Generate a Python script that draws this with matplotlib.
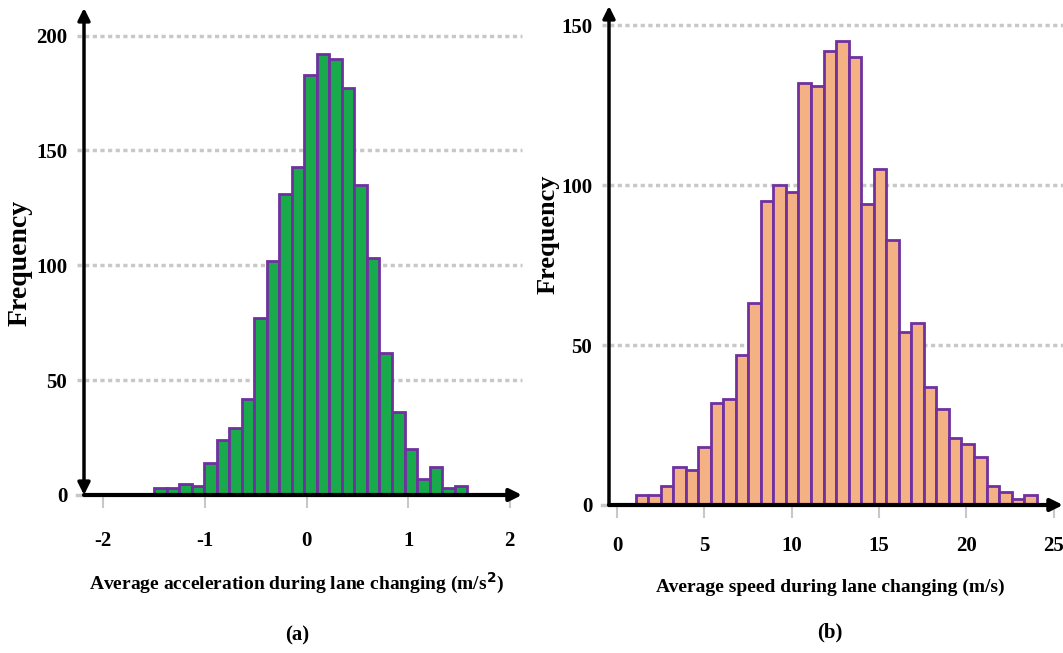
import numpy as np
import matplotlib
matplotlib.use("Agg")
import matplotlib.pyplot as plt

# (a) average acceleration histogram
acc_counts = [3, 3, 5, 4, 14, 24, 29, 42, 77, 102, 131, 143, 183, 192, 190,
              177, 135, 103, 62, 36, 20, 7, 12, 3, 4]
acc_range = (-1.50, 1.58)
acc_yticks = [0, 50, 100, 150, 200]
acc_xticks = [-2, -1, 0, 1, 2]

# (b) average speed histogram
spd_counts = [3, 3, 6, 12, 11, 18, 32, 33, 47, 63, 95, 100, 98, 132, 131,
              142, 145, 140, 94, 105, 83, 54, 57, 37, 30, 21, 19, 15, 6, 4,
              2, 3]
spd_range = (1.05, 24.03)
spd_yticks = [0, 50, 100, 150]
spd_xticks = [0, 5, 10, 15, 20, 25]

plt.rcParams.update({
    "font.family": "Liberation Serif",
    "font.weight": "bold",
    "axes.unicode_minus": False,
})

EDGE = "#7030a0"
GRID = "#c8c8c8"
W, H = 1063, 653


def draw_panel(fig, rect, counts, rng, xlim, ylim, xticks, yticks, color,
               double_arrow, xpad):
    ax = fig.add_axes(rect)
    edges = np.linspace(rng[0], rng[1], len(counts) + 1)
    ax.bar(edges[:-1], counts, width=np.diff(edges), align="edge",
           color=color, edgecolor=EDGE, linewidth=2.0, zorder=3)

    ax.set_xlim(*xlim)
    ax.set_ylim(*ylim)
    for s in ax.spines.values():
        s.set_visible(False)

    # dotted grid, starting a little left of the y axis
    ytr = ax.get_yaxis_transform()
    for v in yticks:
        if v > 0:
            ax.plot([-0.015, 1.0], [v, v], transform=ytr, color=GRID,
                    lw=2.5, ls=(0, (1.2, 1.0)), clip_on=False, zorder=1)
        else:
            ax.plot([-0.015, 0.0], [v, v], transform=ytr, color=GRID,
                    lw=2.5, clip_on=False, zorder=1)

    ax.set_yticks(yticks)
    ax.set_xticks(xticks)
    ax.tick_params(axis="y", length=0, pad=12, labelsize=15)
    ax.tick_params(axis="x", length=9, width=1.5, color=GRID, pad=xpad,
                   labelsize=15)

    style = "<|-|>" if double_arrow else "-|>"
    ax.annotate("", xy=(xlim[0], ylim[1]), xytext=(xlim[0], 0),
                arrowprops=dict(arrowstyle=style, lw=2.5, color="black",
                                mutation_scale=18, shrinkA=0, shrinkB=0),
                annotation_clip=False, zorder=5)
    ax.annotate("", xy=(xlim[1], 0), xytext=(xlim[0], 0),
                arrowprops=dict(arrowstyle="-|>", lw=3.0, color="black",
                                mutation_scale=18, shrinkA=0, shrinkB=0),
                annotation_clip=False, zorder=5)
    return ax


def px_text(fig, x, y, s, **kw):
    fig.text(x / W, 1 - y / H, s, ha="center", va="center",
             fontweight="bold", **kw)


fig = plt.figure(figsize=(W / 100, H / 100), dpi=100)

draw_panel(fig, [84 / W, 158 / H, 438 / W, 487 / H],
           acc_counts, acc_range, (-2.19, 2.12), (0, 212),
           acc_xticks, acc_yticks, "#19ab4b", True, 17)

draw_panel(fig, [609 / W, 148 / H, 454 / W, 499 / H],
           spd_counts, spd_range, (-0.47, 25.54), (0, 156),
           spd_xticks, spd_yticks, "#f4b183", False, 13)

px_text(fig, 20, 263, "Frequency", fontsize=20, rotation=90)
px_text(fig, 548, 234, "Frequency", fontsize=19, rotation=90)
px_text(fig, 296, 583,
        "Average acceleration during lane changing (m/s$^2$)", fontsize=14)
px_text(fig, 830, 587, "Average speed during lane changing (m/s)",
        fontsize=14)
px_text(fig, 297, 635, "(a)", fontsize=15)
px_text(fig, 830, 632, "(b)", fontsize=15)

fig.savefig("out.png", dpi=100)
